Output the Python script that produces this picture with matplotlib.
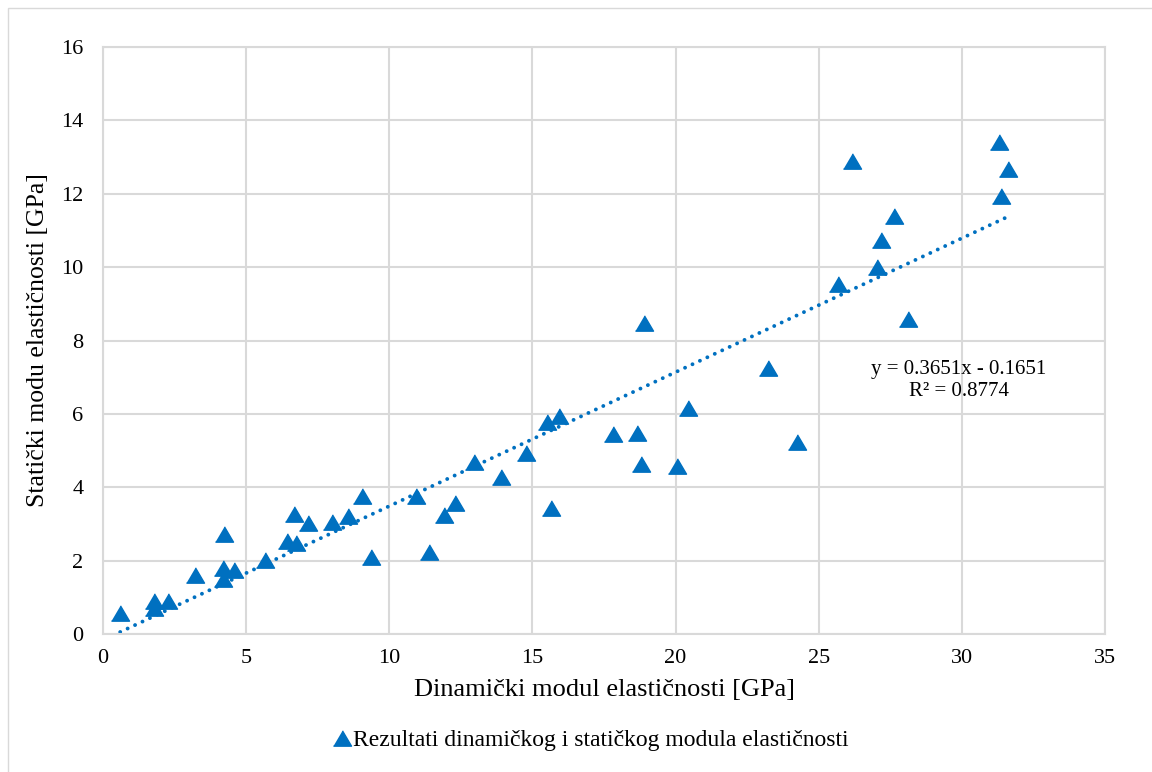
import matplotlib
matplotlib.use("Agg")
import matplotlib.pyplot as plt
from matplotlib.patches import Rectangle
from matplotlib.lines import Line2D
import numpy as np

# Data: dynamic modulus (x) and static modulus (y), GPa
dyn_modulus = [0.60, 1.78, 1.78, 2.26, 3.21, 4.23, 4.18, 4.18, 4.58, 5.66,
               6.41, 6.74, 6.68, 7.17, 8.01, 8.57, 9.06, 9.35, 10.93, 11.39,
               11.91, 12.31, 12.96, 13.89, 14.76, 15.64, 15.50, 15.94, 17.80, 18.66,
               18.78, 18.90, 20.04, 20.44, 23.24, 24.25, 26.15, 25.68, 27.04, 27.16,
               27.63, 28.11, 31.31, 31.60, 31.35]
stat_modulus = [0.58, 0.90, 0.70, 0.91, 1.61, 2.72, 1.79, 1.49, 1.74, 2.02,
                2.54, 2.49, 3.27, 3.03, 3.06, 3.22, 3.76, 2.09, 3.77, 2.24,
                3.24, 3.56, 4.70, 4.29, 4.92, 3.44, 5.79, 5.94, 5.45, 5.49,
                4.63, 8.47, 4.59, 6.15, 7.24, 5.24, 12.90, 9.53, 10.01, 10.74,
                11.40, 8.58, 13.40, 12.67, 11.94]

trend_slope = 0.3651
trend_intercept = -0.1651
r_squared = 0.8774

x_ticks = [0, 5, 10, 15, 20, 25, 30, 35]
y_ticks = [0, 2, 4, 6, 8, 10, 12, 14, 16]

x_label = "Dinamički modul elastičnosti [GPa]"
y_label = "Statički modu elastičnosti [GPa]"
legend_label = "Rezultati dinamičkog i statičkog modula elastičnosti"

plt.rcParams['font.family'] = ['Liberation Serif', 'DejaVu Serif']

W, H = 1152, 772
fig = plt.figure(figsize=(W / 100, H / 100), dpi=100)

# figure outer border (chart area)
fig.patches.append(Rectangle((8 / W, -0.05), 1.2, 1 - 8 / H + 0.05,
                             transform=fig.transFigure, fill=False,
                             edgecolor='#d9d9d9', linewidth=1.0))

left, right, top, bottom = 103, 1105, 47, 634
ax = fig.add_axes([left / W, 1 - bottom / H, (right - left) / W, (bottom - top) / H])

blue = '#0070C0'
tri = [(-1, -0.85), (1, -0.85), (0, 0.85)]

ax.plot(dyn_modulus, stat_modulus, linestyle='none', marker=tri, markersize=13,
        color=blue, markeredgecolor=blue, zorder=3)

xs = np.array([min(dyn_modulus), max(dyn_modulus)])
ax.plot(xs, trend_slope * xs + trend_intercept, color=blue, linewidth=2.8,
        linestyle=(0, (0.01, 2.1)), dash_capstyle='round', zorder=2)

ax.set_xlim(0, 35)
ax.set_ylim(0, 16)
ax.set_xticks(x_ticks)
ax.set_yticks(y_ticks)
ax.set_xticklabels([str(t) for t in x_ticks], fontsize=16)
ax.set_yticklabels([str(t) for t in y_ticks], fontsize=16)
ax.tick_params(axis='y', length=0, pad=14)
ax.tick_params(axis='x', length=0, pad=11)
ax.grid(True, color='#d9d9d9', linewidth=1.5)
ax.set_axisbelow(True)
for s in ax.spines.values():
    s.set_color('#d9d9d9')
    s.set_linewidth(1.5)

ax.set_xlabel(x_label, fontsize=19, labelpad=8)
ax.set_ylabel(y_label, fontsize=18.5, labelpad=9)

ax.text(29.9, 6.92, "y = 0.3651x - 0.1651\nR² = 0.8774", fontsize=15,
        ha='center', va='center', linespacing=1.2, color='black')

handle = Line2D([], [], linestyle='none', marker=tri, markersize=13,
                color=blue, markeredgecolor=blue)
fig.legend([handle], [legend_label], loc='center', bbox_to_anchor=(590 / W, 1 - 740 / H),
           frameon=False, fontsize=17, handletextpad=0.0, handlelength=0.9,
           borderpad=0)

fig.savefig('out.png', dpi=100)
